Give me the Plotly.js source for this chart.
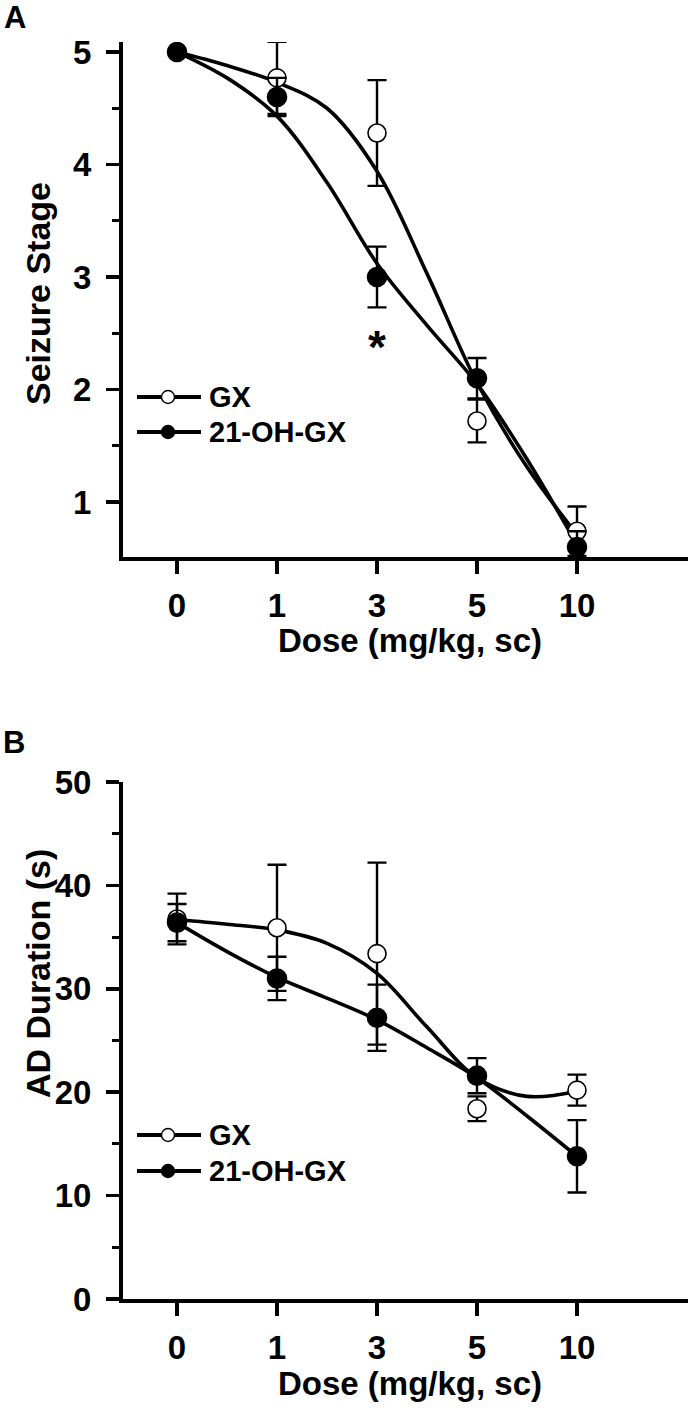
<!DOCTYPE html>
<html>
<head>
<meta charset="utf-8">
<script src="https://cdn.plot.ly/plotly-3.0.1.min.js"></script>
<style>
  html, body { margin: 0; padding: 0; background: #fff; }
  #chart { width: 690px; height: 1415px; }
</style>
</head>
<body>
<div id="chart"></div>
<script>
// dose groups (evenly spaced categories)
const doseLabels = ["0", "1", "3", "5", "10"];
const doseIdx = [0, 1, 2, 3, 4];

// panel A - seizure stage (mean +/- SEM)
const gxStage = [5.0, 4.77, 4.28, 1.72, 0.74];
const gxStageErr = [0, 0.32, 0.47, 0.19, 0.22];
const ohStage = [5.0, 4.60, 3.00, 2.10, 0.60];
const ohStageErr = [0, 0.17, 0.27, 0.18, 0.14];

// panel B - AD duration in s (mean +/- SEM)
const gxAD = [36.75, 35.9, 33.4, 18.4, 20.2];
const gxADErr = [2.45, 6.1, 8.8, 1.2, 1.5];
const ohAD = [36.4, 31.0, 27.2, 21.6, 13.8];
const ohADErr = [1.8, 2.1, 3.2, 1.7, 3.5];

// fitted curves at half steps
const fitX = [0, 0.5, 1, 1.5, 2, 2.5, 3, 3.5, 4];
const gxStageFit = [5.0, 4.88, 4.73, 4.50, 3.94, 3.03, 2.06, 1.31, 0.71];
const ohStageFit = [5.0, 4.77, 4.43, 3.84, 3.12, 2.57, 2.05, 1.38, 0.62];
const gxADFit = [36.7, 36.25, 35.7, 34.4, 31.5, 26.3, 21.4, 19.6, 20.1];
const ohADFit = [36.4, 33.6, 31.1, 29.1, 27.0, 24.3, 21.4, 17.7, 13.8];

const W = 690, H = 1415;
const FONT = "Liberation Sans, Arial, sans-serif";
const px = (x) => x / W;
const py = (y) => 1 - y / H;

function fitTrace(y, xa, ya) {
  return {
    x: fitX, y: y, xaxis: xa, yaxis: ya,
    type: "scatter", mode: "lines",
    line: { color: "#000", width: 3.6, shape: "spline", smoothing: 1 },
    hoverinfo: "skip", showlegend: false,
  };
}

function pointTrace(y, err, open, xa, ya) {
  return {
    x: doseIdx, y: y, xaxis: xa, yaxis: ya,
    type: "scatter", mode: "markers",
    marker: {
      symbol: "circle",
      size: open ? 18 : 19,
      color: open ? "#fff" : "#000",
      line: { color: "#000", width: 1.6 },
    },
    error_y: { type: "data", array: err, visible: true, color: "#000", thickness: 2.4, width: 9.5 },
    showlegend: false,
  };
}

const traces = [
  fitTrace(gxStageFit, "x", "y"),
  fitTrace(ohStageFit, "x", "y"),
  pointTrace(gxStage, gxStageErr, true, "x", "y"),
  pointTrace(ohStage, ohStageErr, false, "x", "y"),
  fitTrace(gxADFit, "x2", "y2"),
  fitTrace(ohADFit, "x2", "y2"),
  pointTrace(gxAD, gxADErr, true, "x2", "y2"),
  pointTrace(ohAD, ohADErr, false, "x2", "y2"),
];

const tickFont = { family: FONT, size: 33, color: "#000", weight: 700 };

function xAxis() {
  return {
    domain: [px(123), px(688)],
    range: [-0.54, 5.11],
    tickvals: doseIdx, ticktext: doseLabels,
    showline: true, linewidth: 4, linecolor: "#000",
    ticks: "outside", ticklen: 13, tickwidth: 3.5, tickcolor: "#000",
    ticklabelstandoff: 3,
    tickfont: tickFont,
    showgrid: false, zeroline: false, fixedrange: true,
  };
}

function yAxis(domain, range, vals, minorVals) {
  return {
    domain: domain, range: range,
    tickvals: vals,
    showline: true, linewidth: 4, linecolor: "#000",
    ticks: "outside", ticklen: 13, tickwidth: 3.5, tickcolor: "#000",
    ticklabelstandoff: 8,
    minor: { tickvals: minorVals, ticks: "outside", ticklen: 7, tickwidth: 3, tickcolor: "#000" },
    tickfont: tickFont,
    showgrid: false, zeroline: false, fixedrange: true,
  };
}

function text(x, y, t, size, opts) {
  return Object.assign({
    xref: "paper", yref: "paper", x: px(x), y: py(y),
    xanchor: "center", yanchor: "middle",
    text: "<b>" + t + "</b>", showarrow: false,
    font: { family: FONT, size: size, color: "#000" },
  }, opts || {});
}

// legend built from shapes + text so the sample line is long like the original
function legend(yTop, yBot) {
  const shapes = [];
  const anns = [];
  [[yTop, true, "GX"], [yBot, false, "21-OH-GX"]].forEach(([y, open, label]) => {
    shapes.push({
      type: "line", xref: "paper", yref: "paper",
      x0: px(137), x1: px(201), y0: py(y), y1: py(y),
      line: { color: "#000", width: 4 },
    });
    const r = 6.5;
    shapes.push({
      type: "circle", xref: "paper", yref: "paper",
      x0: px(168 - r), x1: px(168 + r), y0: py(y + r), y1: py(y - r),
      fillcolor: open ? "#fff" : "#000",
      line: { color: "#000", width: 1.4 },
    });
    anns.push(text(207, y, label, 29, { xanchor: "left" }));
  });
  return { shapes, anns };
}

const legA = legend(397, 432);
const legB = legend(1135, 1171);

const layout = {
  width: W, height: H,
  margin: { l: 0, r: 0, t: 0, b: 0 },
  paper_bgcolor: "#fff", plot_bgcolor: "#fff",
  showlegend: false,
  xaxis: Object.assign(xAxis(), { anchor: "y" }),
  yaxis: Object.assign(yAxis([py(557), py(42)], [0.511, 5.089], [1, 2, 3, 4, 5], [1.5, 2.5, 3.5, 4.5]), { anchor: "x" }),
  xaxis2: Object.assign(xAxis(), { anchor: "y2" }),
  yaxis2: Object.assign(yAxis([py(1299), py(782)], [0, 50], [0, 10, 20, 30, 40, 50], [5, 15, 25, 35, 45]), { anchor: "x2" }),
  shapes: legA.shapes.concat(legB.shapes),
  annotations: [
    text(15, 18, "A", 31),
    text(14, 742, "B", 31),
    text(38, 294, "Seizure Stage", 34, { textangle: -90 }),
    text(38, 974, "AD Duration (s)", 34, { textangle: -90 }),
    text(410, 640, "Dose (mg/kg, sc)", 33),
    text(410, 1383, "Dose (mg/kg, sc)", 33),
    {
      xref: "x", yref: "y", x: 2, y: 2.38, text: "<b>*</b>", showarrow: false,
      xanchor: "center", yanchor: "middle",
      font: { family: FONT, size: 46, color: "#000" },
    },
  ].concat(legA.anns, legB.anns),
};

Plotly.newPlot("chart", traces, layout, { displayModeBar: false, staticPlot: true });
</script>
</body>
</html>
